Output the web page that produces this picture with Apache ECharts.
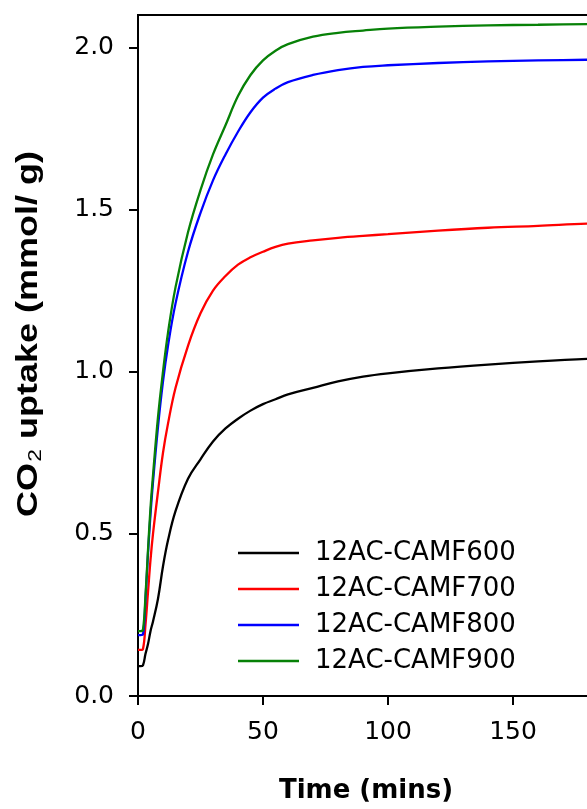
<!DOCTYPE html>
<html>
<head>
<meta charset="utf-8">
<script src="https://cdn.jsdelivr.net/npm/echarts@6/dist/echarts.min.js"></script>
<style>
html,body{margin:0;padding:0;background:#fff;}
#chart{width:587px;height:809px;}
</style>
</head>
<body>
<div id="chart"></div>
<script>
const timeMins = [0, 1, 2, 3, 4, 5, 6, 8, 10, 12, 15, 20, 25, 30, 35, 40, 45, 50, 55, 60, 70, 80, 90, 100, 120, 140, 160, 180, 200];
const camf600 = [0.092,0.092,0.095,0.13,0.16,0.20,0.23,0.30,0.40,0.48,0.57,0.67,0.73,0.785,0.825,0.855,0.88,0.90,0.915,0.93,0.95,0.97,0.985,0.995,1.01,1.022,1.032,1.04,1.045];
const camf700 = [0.142,0.142,0.145,0.22,0.32,0.42,0.50,0.63,0.75,0.84,0.95,1.08,1.18,1.25,1.295,1.33,1.353,1.37,1.385,1.395,1.405,1.413,1.419,1.424,1.435,1.444,1.45,1.457,1.46];
const camf800 = [0.188,0.188,0.19,0.30,0.44,0.56,0.66,0.83,0.97,1.08,1.21,1.37,1.49,1.59,1.67,1.74,1.80,1.845,1.873,1.893,1.915,1.93,1.94,1.945,1.952,1.957,1.96,1.962,1.963];
const camf900 = [0.20,0.20,0.205,0.31,0.45,0.58,0.68,0.86,1.00,1.12,1.26,1.43,1.56,1.67,1.76,1.85,1.915,1.96,1.99,2.01,2.033,2.045,2.052,2.058,2.064,2.068,2.07,2.072,2.073];
const seriesNames = ['12AC-CAMF600','12AC-CAMF700','12AC-CAMF800','12AC-CAMF900'];
const seriesColors = ['#000000','#ff0000','#0000ff','#078107'];
const yTicks = [0, 0.5, 1.0, 1.5, 2.0];
const xTicks = [0, 50, 100, 150, 200];

const allData = [camf600, camf700, camf800, camf900];
const chart = echarts.init(document.getElementById('chart'), null, {renderer:'canvas'});
const font = 'DejaVu Sans';
chart.setOption({
  animation:false,
  backgroundColor:'#fff',
  grid:{left:138, top:15, width:500, height:681, show:true, borderColor:'#000', borderWidth:2, backgroundColor:'transparent', containLabel:false, outerBoundsMode:'none'},
  xAxis:{type:'value', min:0, max:200, interval:50,
    axisLine:{show:true, onZero:false, lineStyle:{color:'#000', width:2}},
    axisTick:{show:true, length:9, lineStyle:{color:'#000', width:2}, customValues:xTicks},
    axisLabel:{color:'#000', fontFamily:font, fontSize:25, margin:24, customValues:xTicks},
    splitLine:{show:false}
  },
  yAxis:{type:'value', min:0, max:2.1,
    axisLine:{show:true, onZero:false, lineStyle:{color:'#000', width:2}},
    axisTick:{show:true, length:9, lineStyle:{color:'#000', width:2}, customValues:yTicks},
    axisLabel:{color:'#000', fontFamily:font, fontSize:25, margin:24, customValues:yTicks, formatter:v=>v.toFixed(1)},
    splitLine:{show:false}
  },
  legend:{show:true, orient:'vertical', left:233, top:535, itemWidth:61, itemHeight:2.5, itemGap:10,
    icon:'rect',
    data:seriesNames,
    textStyle:{color:'#000', fontFamily:font, fontSize:26, lineHeight:26, padding:[0,0,0,11]}
  },
  graphic:[
    {type:'text', x:366, y:791, style:{text:'Time (mins)', fontFamily:font, fontWeight:'bold', fontSize:26, fill:'#000', align:'center', verticalAlign:'middle'}},
    {type:'text', x:29, y:334, rotation:Math.PI/2, scaleX:1.2, scaleY:1,
      style:{text:'{b|CO}{s|2}{b| uptake (mmol/ g)}', align:'center', verticalAlign:'middle', fill:'#000',
        rich:{
          b:{fontFamily:'Liberation Sans', fontWeight:'bold', fontSize:30, fill:'#000'},
          s:{fontFamily:'Liberation Sans', fontWeight:'normal', fontSize:19, fill:'#000', padding:[14,0,0,1]}
        }}}
  ],
  series: seriesNames.map((name,i)=>({
    name:name, type:'line', showSymbol:false, symbol:'none',
    smooth:0.4,
    lineStyle:{color:seriesColors[i], width:2.3},
    itemStyle:{color:seriesColors[i]},
    data: timeMins.map((t,j)=>[t, allData[i][j]])
  }))
});
</script>
</body>
</html>
